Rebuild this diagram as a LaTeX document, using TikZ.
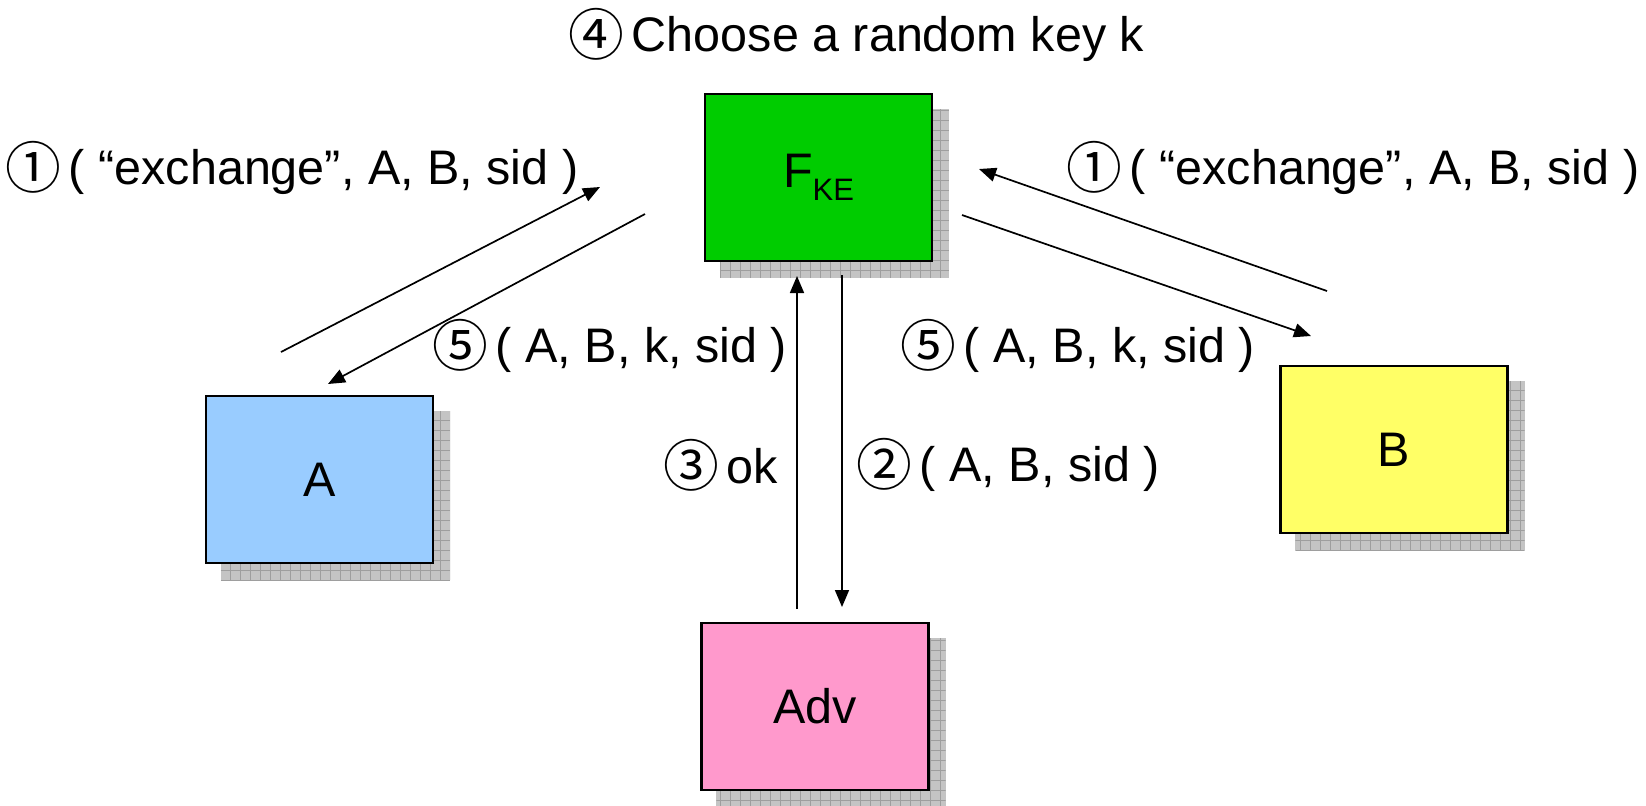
\documentclass[tikz,border=0pt]{standalone}
\usepackage{fontspec}
\setmainfont{Liberation Sans}
\newfontfamily\cjk{Noto Sans CJK JP}
\usetikzlibrary{arrows.meta,backgrounds}

\definecolor{fkegreen}{HTML}{00CC00}
\definecolor{partyblue}{HTML}{99CCFF}
\definecolor{partyyellow}{HTML}{FFFF66}
\definecolor{advpink}{HTML}{FF99CC}
\definecolor{shadowfill}{HTML}{C4C4C4}
\definecolor{shadowgrid}{HTML}{9E9E9E}

% circled step numbers, set a little larger than the running text
\newcommand\cnum[1]{\makebox[22.5pt][c]{\raisebox{-1.6pt}{\scalebox{1.15}{\cjk #1}}}}

% drop shadow with a fine grid texture, offset down and right
\newcommand\gridshadow[1]{%
  \begin{scope}[on background layer]
    \path ([shift={(16,16)}]#1.north west) coordinate (#1-sa)
          ([shift={(16,16)}]#1.south east) coordinate (#1-sb);
    \fill[shadowfill] (#1-sa) rectangle (#1-sb);
    \begin{scope}
      \clip (#1-sa) rectangle (#1-sb);
      \draw[shadowgrid, line width=0.35pt, step=5pt] (#1-sa) grid (#1-sb);
    \end{scope}
  \end{scope}}

\begin{document}
\begin{tikzpicture}[x=0.5pt, y=-0.5pt,
  every node/.style={font=\fontsize{24.25pt}{29pt}\selectfont, inner sep=0pt},
  party/.style={draw=black, line width=1.1pt, minimum width=113.5pt,
                minimum height=83.5pt},
  msg/.style={line width=0.85pt, -{Triangle[length=8.5pt,width=7pt]}},
  lbl/.style={anchor=west}]

\useasboundingbox (0,0) rectangle (1646,805);

% parties and the ideal functionality
\node[party, fill=fkegreen]    (fke) at (818.5,177.5)
  {F\raisebox{-6.5pt}{\fontsize{15.5pt}{16pt}\selectfont KE}};
\node[party, fill=partyblue]   (a)   at (319.5,479.5) {A};
\node[party, fill=partyyellow] (b)   at (1394,449.5) {B};
\node[party, fill=advpink]     (adv) at (815,706.5) {Adv};

\gridshadow{fke}
\gridshadow{a}
\gridshadow{b}
\gridshadow{adv}

% message end points
\coordinate (a-out)   at (281,352);
\coordinate (fke-ina) at (600,187);
\coordinate (fke-outa) at (645,214);
\coordinate (a-in)    at (328,384);
\coordinate (b-out)   at (1327,291);
\coordinate (fke-inb) at (979,169);
\coordinate (fke-outb) at (962,215);
\coordinate (b-in)    at (1311,336);
\coordinate (adv-out) at (797,609);
\coordinate (fke-inv) at (797,276);
\coordinate (fke-outv) at (842,275);
\coordinate (adv-in)  at (842,607);

\draw[msg] (a-out) -- (fke-ina);
\draw[msg] (fke-outa) -- (a-in);
\draw[msg] (b-out) -- (fke-inb);
\draw[msg] (fke-outb) -- (b-in);
\draw[msg] (adv-out) -- (fke-inv);
\draw[msg] (fke-outv) -- (adv-in);

% labels
\node[lbl] (title) at (573,35) {\cnum{④} Choose a random key k};
\node[lbl] (l1a) at (10,168) {\cnum{①} ( “exchange”, A, B, sid )};
\node[lbl] (l1b) at (1071,168) {\cnum{①} ( “exchange”, A, B, sid )};
\node[lbl] (l5a) at (437,346) {\cnum{⑤} ( A, B, k, sid )};
\node[lbl] (l5b) at (905,346) {\cnum{⑤} ( A, B, k, sid )};
\node[lbl] (l3)  at (668,465) {\cnum{③} ok};
\node[lbl] (l2)  at (861,465) {\cnum{②} ( A, B, sid )};

\end{tikzpicture}
\end{document}
